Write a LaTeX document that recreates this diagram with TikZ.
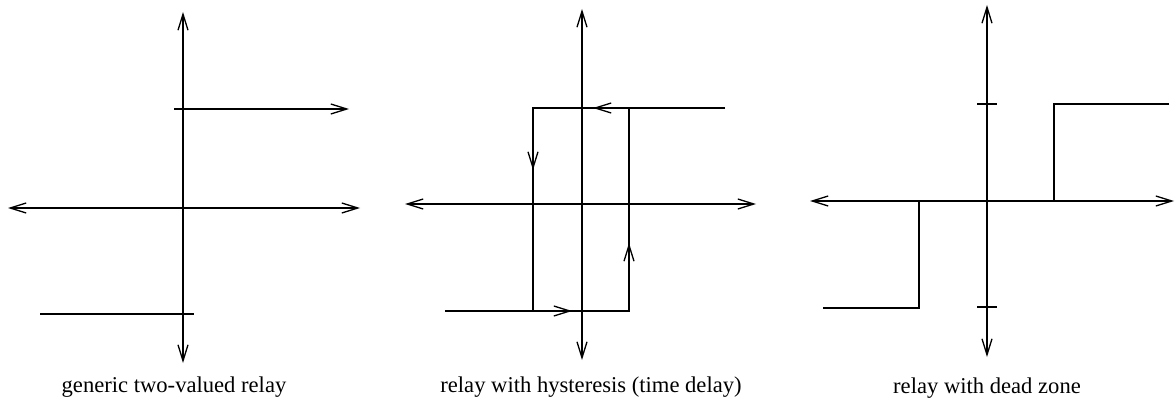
\documentclass[tikz,border=0pt]{standalone}
\usepackage{fontspec}
\setmainfont{Liberation Serif}
\usetikzlibrary{arrows.meta,positioning,calc}

\begin{document}
\begin{tikzpicture}[x=1pt,y=-1pt,line width=1.3pt,
 >={Straight Barb[length=16pt,width=10pt,line width=1.3pt]},
 axis/.style={<->},caption/.style={anchor=base,font=\fontsize{22.6}{27}\selectfont,inner sep=0pt}]
\useasboundingbox (0,0) rectangle (1175,409);
% generic two-valued relay
\coordinate (a1t) at (183,12); \coordinate (a1b) at (183,363);
\coordinate (a1l) at (8,208); \coordinate (a1r) at (360,208);
\draw[axis] (a1t)--(a1b); \draw[axis] (a1l)--(a1r);
\coordinate (u1s) at (174,109); \coordinate (u1e) at (349,109);
\coordinate (l1s) at (40,314); \coordinate (l1e) at (194,314);
\draw[->] (u1s)--(u1e); \draw (l1s)--(l1e);
\node[caption] (c1) at (174,392) {generic two-valued relay};
% relay with hysteresis
\coordinate (a2t) at (582,9); \coordinate (a2b) at (582,360);
\coordinate (a2l) at (405,204); \coordinate (a2r) at (756,204);
\draw[axis] (a2t)--(a2b); \draw[axis] (a2l)--(a2r);
\coordinate (hbl) at (533,311); \coordinate (hbr) at (629,311);
\coordinate (htl) at (533,108); \coordinate (htr) at (629,108);
\coordinate (hin) at (445,311); \coordinate (hout) at (725,108);
\draw (hin)--(hbr)--(htr); \draw (hout)--(htl)--(hbl);
\draw[->] (hin)--(572,311); \draw[->] (hbr)--(629,243);
\draw[->] (hout)--(593,108); \draw[->] (htl)--(533,170);
\node[caption] (c2) at (591,392) {relay with hysteresis (time delay)};
% relay with dead zone
\coordinate (a3t) at (987,5); \coordinate (a3b) at (987,357);
\coordinate (a3l) at (810,201); \coordinate (a3r) at (1174,201);
\draw[axis] (a3t)--(a3b); \draw[axis] (a3l)--(a3r);
\foreach \y in {104,307} \draw (977,\y)--(997,\y);
\draw (1169,104)--(1054,104)--(1054,201);
\draw (919,201)--(919,308)--(823,308);
\node[caption] (c3) at (987,393) {relay with dead zone};
\end{tikzpicture}
\end{document}
